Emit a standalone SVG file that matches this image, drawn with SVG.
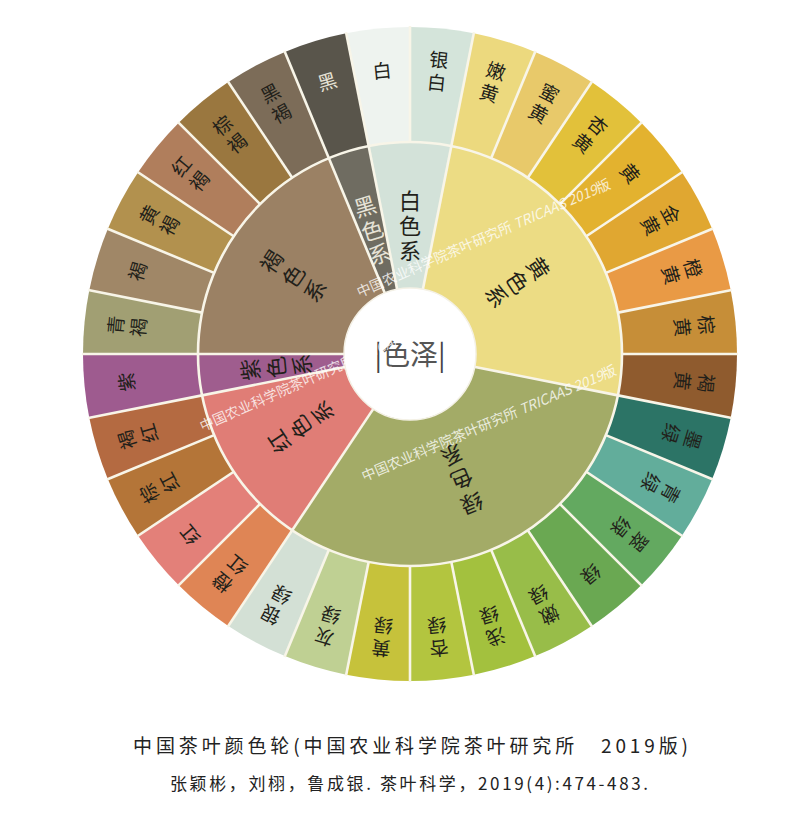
<svg xmlns="http://www.w3.org/2000/svg" xmlns:xlink="http://www.w3.org/1999/xlink" width="800" height="817" viewBox="0 0 800 817">
<style>
.o text{font-family:"Noto Sans CJK SC","Noto Sans CJK JP",sans-serif;font-size:19px;text-anchor:middle;dominant-baseline:central;fill:#221f1a}
.m text{font-family:"Noto Sans CJK SC","Noto Sans CJK JP",sans-serif;font-size:22px;text-anchor:middle;dominant-baseline:central;fill:#221f1a}
.lt text{fill:#e6e2d6}
.sep line{stroke:#f8f5e8;stroke-width:2.6}
.wm{font-family:"Noto Sans CJK SC",sans-serif;font-size:14px;fill:#ffffff;fill-opacity:0.78;dominant-baseline:central}
.cap{font-family:"Noto Sans CJK SC","Noto Sans CJK JP",sans-serif;fill:#222}
</style>
<defs>
<path id="ow" d="M0,0 L0,-327 A327,327 0 0,1 63.79,-320.72 Z"/>
</defs>
<rect width="800" height="817" fill="#ffffff"/>
<g transform="translate(410,354)">
<g id="outer-ring">
<g id="s-yinbai"><use xlink:href="#ow" transform="rotate(0)" fill="#d4e4da"/><g class="o" transform="rotate(5.625)"><text y="-297">银</text><text y="-274">白</text></g></g>
<g id="s-nenhuang"><use xlink:href="#ow" transform="rotate(11.25)" fill="#ecd97e"/><g class="o" transform="rotate(16.875)"><text y="-297">嫩</text><text y="-274">黄</text></g></g>
<g id="s-mihuang"><use xlink:href="#ow" transform="rotate(22.5)" fill="#e8c96a"/><g class="o" transform="rotate(28.125)"><text y="-297">蜜</text><text y="-274">黄</text></g></g>
<g id="s-xinghuang"><use xlink:href="#ow" transform="rotate(33.75)" fill="#e2c13a"/><g class="o" transform="rotate(39.375)"><text y="-297">杏</text><text y="-274">黄</text></g></g>
<g id="s-huang"><use xlink:href="#ow" transform="rotate(45)" fill="#e3b22f"/><g class="o" transform="rotate(50.625)"><text y="-286">黄</text></g></g>
<g id="s-jinhuang"><use xlink:href="#ow" transform="rotate(56.25)" fill="#e0a731"/><g class="o" transform="rotate(61.875)"><text y="-297">金</text><text y="-274">黄</text></g></g>
<g id="s-chenghuang"><use xlink:href="#ow" transform="rotate(67.5)" fill="#e99a45"/><g class="o" transform="rotate(73.125)"><text y="-297">橙</text><text y="-274">黄</text></g></g>
<g id="s-zonghuang"><use xlink:href="#ow" transform="rotate(78.75)" fill="#c68e38"/><g class="o" transform="rotate(84.375)"><text y="-299">棕</text><text y="-275">黄</text></g></g>
<g id="s-hehuang"><use xlink:href="#ow" transform="rotate(90)" fill="#8f5b2e"/><g class="o" transform="rotate(95.625)"><text y="-299">褐</text><text y="-275">黄</text></g></g>
<g id="s-molv"><use xlink:href="#ow" transform="rotate(101.25)" fill="#2c7466"/><g class="o" transform="rotate(106.875)"><text y="-297">墨</text><text y="-274">绿</text></g></g>
<g id="s-qinglv"><use xlink:href="#ow" transform="rotate(112.5)" fill="#62ad9b"/><g class="o" transform="rotate(118.125)"><text y="-297">青</text><text y="-274">绿</text></g></g>
<g id="s-cuilv"><use xlink:href="#ow" transform="rotate(123.75)" fill="#63a960"/><g class="o" transform="rotate(129.375)"><text y="-297">翠</text><text y="-274">绿</text></g></g>
<g id="s-lv"><use xlink:href="#ow" transform="rotate(135)" fill="#6aa852"/><g class="o" transform="rotate(140.625)"><text y="-286">绿</text></g></g>
<g id="s-nenlv"><use xlink:href="#ow" transform="rotate(146.25)" fill="#98bd49"/><g class="o" transform="rotate(151.875)"><text y="-297">嫩</text><text y="-274">绿</text></g></g>
<g id="s-qianlv"><use xlink:href="#ow" transform="rotate(157.5)" fill="#a3c13e"/><g class="o" transform="rotate(163.125)"><text y="-297">浅</text><text y="-274">绿</text></g></g>
<g id="s-xinglv"><use xlink:href="#ow" transform="rotate(168.75)" fill="#b3c53f"/><g class="o" transform="rotate(174.375)"><text y="-297">杏</text><text y="-274">绿</text></g></g>
<g id="s-huanglv"><use xlink:href="#ow" transform="rotate(180)" fill="#c6c23b"/><g class="o" transform="rotate(185.625)"><text y="-297">黄</text><text y="-274">绿</text></g></g>
<g id="s-huilv"><use xlink:href="#ow" transform="rotate(191.25)" fill="#bfd093"/><g class="o" transform="rotate(196.875)"><text y="-297">灰</text><text y="-274">绿</text></g></g>
<g id="s-yinlv"><use xlink:href="#ow" transform="rotate(202.5)" fill="#d3e0d5"/><g class="o" transform="rotate(208.125)"><text y="-297">银</text><text y="-274">绿</text></g></g>
<g id="s-chenghong"><use xlink:href="#ow" transform="rotate(213.75)" fill="#df8555"/><g class="o" transform="rotate(219.375)"><text y="-297">橙</text><text y="-274">红</text></g></g>
<g id="s-hong"><use xlink:href="#ow" transform="rotate(225)" fill="#e38079"/><g class="o" transform="rotate(230.625)"><text y="-286">红</text></g></g>
<g id="s-zonghong"><use xlink:href="#ow" transform="rotate(236.25)" fill="#b47538"/><g class="o" transform="rotate(241.875)"><text y="-297">棕</text><text y="-274">红</text></g></g>
<g id="s-hehong"><use xlink:href="#ow" transform="rotate(247.5)" fill="#b46a41"/><g class="o" transform="rotate(253.125)"><text y="-297">褐</text><text y="-274">红</text></g></g>
<g id="s-zi"><use xlink:href="#ow" transform="rotate(258.75)" fill="#9e5b8f"/><g class="o" transform="rotate(264.375)"><text y="-286">紫</text></g></g>
<g id="s-qinghe"><use xlink:href="#ow" transform="rotate(270)" fill="#a19f73"/><g class="o" transform="rotate(275.625)"><text y="-297">青</text><text y="-274">褐</text></g></g>
<g id="s-he"><use xlink:href="#ow" transform="rotate(281.25)" fill="#a08767"/><g class="o" transform="rotate(286.875)"><text y="-286">褐</text></g></g>
<g id="s-huanghe"><use xlink:href="#ow" transform="rotate(292.5)" fill="#b2914e"/><g class="o" transform="rotate(298.125)"><text y="-297">黄</text><text y="-274">褐</text></g></g>
<g id="s-honghe"><use xlink:href="#ow" transform="rotate(303.75)" fill="#b07e5c"/><g class="o" transform="rotate(309.375)"><text y="-297">红</text><text y="-274">褐</text></g></g>
<g id="s-zonghe"><use xlink:href="#ow" transform="rotate(315)" fill="#9a773f"/><g class="o" transform="rotate(320.625)"><text y="-297">棕</text><text y="-274">褐</text></g></g>
<g id="s-heihe"><use xlink:href="#ow" transform="rotate(326.25)" fill="#7c6c58"/><g class="o" transform="rotate(331.875)"><text y="-297">黑</text><text y="-274">褐</text></g></g>
<g id="s-hei"><use xlink:href="#ow" transform="rotate(337.5)" fill="#59554b"/><g class="o lt" transform="rotate(343.125)"><text y="-286">黑</text></g></g>
<g id="s-bai"><use xlink:href="#ow" transform="rotate(348.75)" fill="#eef3ef"/><g class="o" transform="rotate(354.375)"><text y="-286">白</text></g></g>
</g>
<g id="middle-ring">
<g id="c-bai"><path d="M0,0 L0,-212 A212,212 0 0,1 81.13,-195.86 Z" transform="rotate(348.75)" fill="#d3e2d9"/><g class="m"><text y="-155">白</text><text y="-130">色</text><text y="-105">系</text></g></g>
<g id="c-huang"><path d="M0,0 L0,-212 A212,212 0 0,1 212,0 Z" transform="rotate(11.25)" fill="#ecdc84"/><g class="m" transform="rotate(56.25)"><text y="-156">黄</text><text y="-131">色</text><text y="-106">系</text></g></g>
<g id="c-lv"><path d="M0,0 L0,-212 A212,212 0 0,1 195.86,81.13 Z" transform="rotate(101.25)" fill="#a3ab67"/><g class="m" transform="rotate(157.5)"><text y="-163">绿</text><text y="-137">色</text><text y="-111">系</text></g></g>
<g id="c-hong"><path d="M0,0 L0,-212 A212,212 0 0,1 149.91,-149.91 Z" transform="rotate(213.75)" fill="#e07d76"/><g class="m" transform="rotate(236.25)"><text y="-159">红</text><text y="-133">色</text><text y="-107">系</text></g></g>
<g id="c-zi"><path d="M0,0 L0,-212 A212,212 0 0,1 41.36,-207.93 Z" transform="rotate(258.75)" fill="#9f5d8e"/><g class="m" transform="rotate(264.375)"><text y="-162">紫</text><text y="-136">色</text><text y="-110">系</text></g></g>
<g id="c-he"><path d="M0,0 L0,-212 A212,212 0 0,1 195.86,-81.13 Z" transform="rotate(270)" fill="#9b8164"/><g class="m" transform="rotate(303.75)"><text y="-168">褐</text><text y="-142">色</text><text y="-116">系</text></g></g>
<g id="c-hei"><path d="M0,0 L0,-212 A212,212 0 0,1 41.36,-207.93 Z" transform="rotate(337.5)" fill="#6f6c61"/><g class="m lt" transform="rotate(343.125)"><text y="-156">黑</text><text y="-131">色</text><text y="-106">系</text></g></g>
</g>
<g id="connectors" class="sep">
<line y1="-212" y2="-328" transform="rotate(0)"/><line y1="-212" y2="-328" transform="rotate(11.25)"/><line y1="-212" y2="-328" transform="rotate(22.5)"/><line y1="-212" y2="-328" transform="rotate(33.75)"/>
<line y1="-212" y2="-328" transform="rotate(45)"/><line y1="-212" y2="-328" transform="rotate(56.25)"/><line y1="-212" y2="-328" transform="rotate(67.5)"/><line y1="-212" y2="-328" transform="rotate(78.75)"/>
<line y1="-212" y2="-328" transform="rotate(90)"/><line y1="-212" y2="-328" transform="rotate(101.25)"/><line y1="-212" y2="-328" transform="rotate(112.5)"/><line y1="-212" y2="-328" transform="rotate(123.75)"/>
<line y1="-212" y2="-328" transform="rotate(135)"/><line y1="-212" y2="-328" transform="rotate(146.25)"/><line y1="-212" y2="-328" transform="rotate(157.5)"/><line y1="-212" y2="-328" transform="rotate(168.75)"/>
<line y1="-212" y2="-328" transform="rotate(180)"/><line y1="-212" y2="-328" transform="rotate(191.25)"/><line y1="-212" y2="-328" transform="rotate(202.5)"/><line y1="-212" y2="-328" transform="rotate(213.75)"/>
<line y1="-212" y2="-328" transform="rotate(225)"/><line y1="-212" y2="-328" transform="rotate(236.25)"/><line y1="-212" y2="-328" transform="rotate(247.5)"/><line y1="-212" y2="-328" transform="rotate(258.75)"/>
<line y1="-212" y2="-328" transform="rotate(270)"/><line y1="-212" y2="-328" transform="rotate(281.25)"/><line y1="-212" y2="-328" transform="rotate(292.5)"/><line y1="-212" y2="-328" transform="rotate(303.75)"/>
<line y1="-212" y2="-328" transform="rotate(315)"/><line y1="-212" y2="-328" transform="rotate(326.25)"/><line y1="-212" y2="-328" transform="rotate(337.5)"/><line y1="-212" y2="-328" transform="rotate(348.75)"/>
<line y1="-60" y2="-212" transform="rotate(348.75)"/><line y1="-60" y2="-212" transform="rotate(11.25)"/><line y1="-60" y2="-212" transform="rotate(101.25)"/><line y1="-60" y2="-212" transform="rotate(213.75)"/>
<line y1="-60" y2="-212" transform="rotate(258.75)"/><line y1="-60" y2="-212" transform="rotate(270)"/><line y1="-60" y2="-212" transform="rotate(337.5)"/>
<circle r="212" fill="none" stroke="#f8f5e8" stroke-width="2.6"/>
</g>
<g id="center">
<circle r="66" fill="#ffffff" stroke="#f4f1e6" stroke-width="1.5"/>
<text x="0" y="-1" font-family="Noto Sans CJK SC,sans-serif" font-size="28" text-anchor="middle" dominant-baseline="central" fill="#555"><tspan fill="#444">|</tspan>色泽<tspan fill="#444">|</tspan></text>
</g>
</g>
<g id="watermark">
<text class="wm" x="357" y="292" transform="rotate(-23.5 357 292)">中国农业科学院茶叶研究所 <tspan font-style="italic">TRICAAS 2019</tspan>版</text>
<text class="wm" x="200" y="426" transform="rotate(-23.8 200 426)">中国农业科学院茶叶研究所 <tspan font-style="italic">TRICAAS 2019</tspan>版</text>
<text class="wm" x="362" y="476" transform="rotate(-23 362 476)">中国农业科学院茶叶研究所 <tspan font-style="italic">TRICAAS 2019</tspan>版</text>
</g>
<g id="caption">
<text class="cap" x="133" y="753" font-size="19" textLength="555" lengthAdjust="spacing">中国茶叶颜色轮(中国农业科学院茶叶研究所　2019版)</text>
<text class="cap" x="170" y="790" font-size="17" textLength="478" lengthAdjust="spacing">张颖彬，刘栩，鲁成银. 茶叶科学，2019(4):474-483.</text>
</g>
</svg>
